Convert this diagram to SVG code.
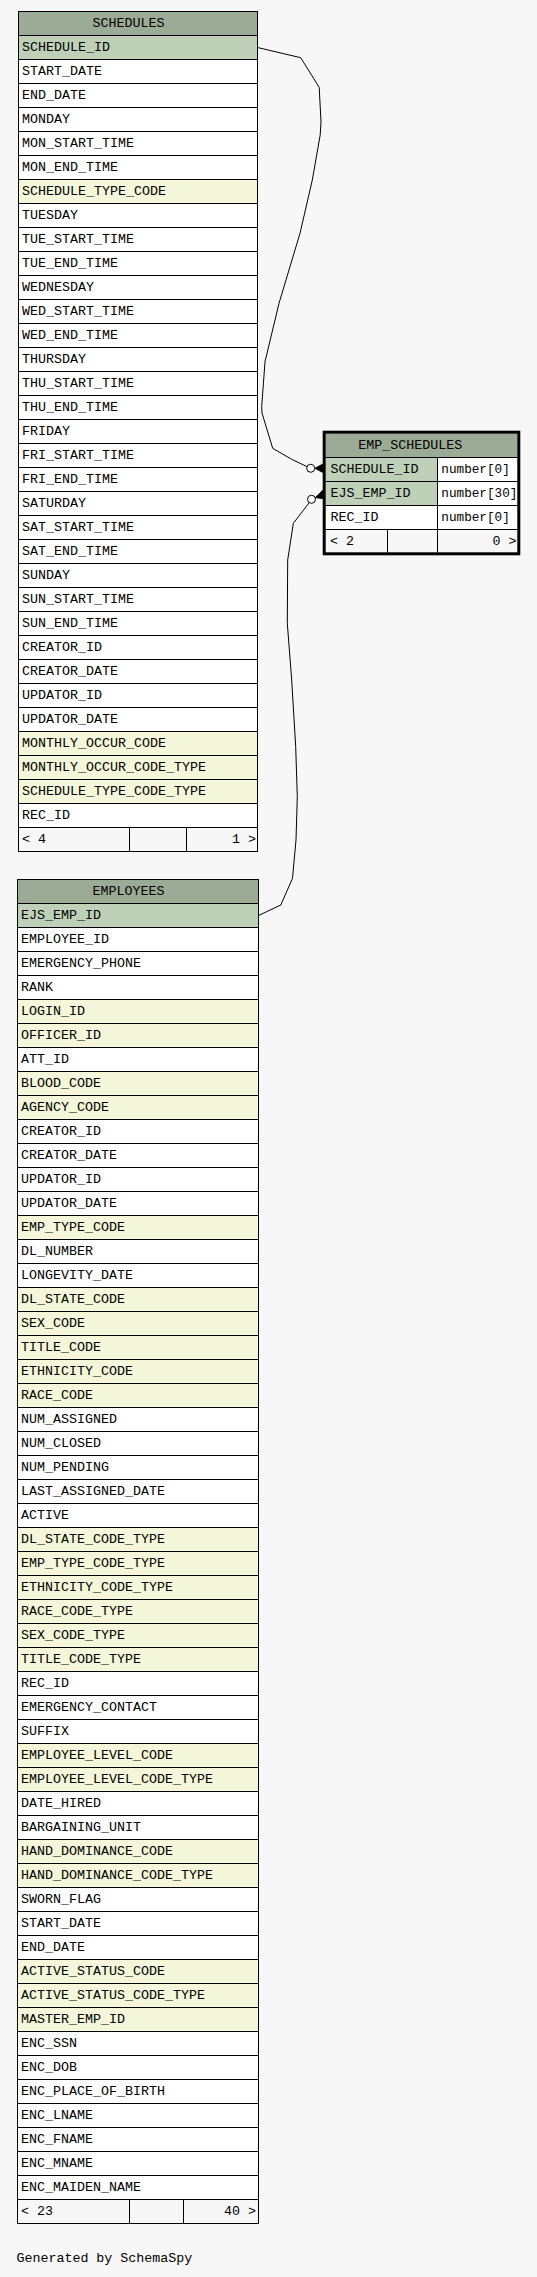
<svg xmlns="http://www.w3.org/2000/svg" width="537" height="2277" viewBox="0 0 537 2277">
<style>
text{font-family:"Liberation Mono","DejaVu Sans Mono",monospace;font-size:13.33px;fill:#000}
.t{font-size:12.7px}
.bg{fill:#ffffff;stroke:none}
.hd{fill:#9bab96}
.pk{fill:#bed1b8}
.ix{fill:#f4f7da}
.ft{fill:#f7f7f7}
.grid{fill:none;stroke:#000;stroke-width:1}
.frame{fill:none;stroke:#000;stroke-width:1}
.edge{fill:none;stroke:#000;stroke-width:1}
.dot{fill:#fff;stroke:#000;stroke-width:1}
.crow{fill:#000;stroke:#000;stroke-width:1}
.e{text-anchor:end}
</style>
<rect width="537" height="2277" fill="#f7f7f7"/>

<g id="connectors">
<path class="edge" d="M257.5,47.5 L300.7,57.7 L319.2,87.3 L321,122 L320.2,135 L312.3,180 L300,233.3 L279,303.3 L265,361.7 L261.7,406.7 L262,413 L272.7,448.3 L291.7,459.3 L306.9,466.6"/>
<circle class="dot" cx="310.7" cy="468.3" r="4"/>
<polygon class="crow" points="315,468.3 322.5,464.3 322.5,472.3"/>
<path class="edge" d="M258.5,915.5 L280.8,905 L292.5,878.3 L296,840 L297.3,796.7 L295.7,746.7 L291.7,680 L287.3,623.3 L287.7,560 L292.3,530 L293.3,523.3 L309.3,502.6"/>
<circle class="dot" cx="311.5" cy="499.3" r="4"/>
<polygon class="crow" points="315.3,497.6 322.5,490.5 322.5,498.5"/>
</g>

<g id="schedules">
<rect class="bg" x="18.5" y="11.5" width="239" height="840"/>
<rect class="hd" x="18.5" y="11.5" width="239" height="24"/>
<rect class="pk" x="18.5" y="35.5" width="239" height="24"/>
<rect class="ix" x="18.5" y="179.5" width="239" height="24"/>
<rect class="ix" x="18.5" y="731.5" width="239" height="72"/>
<rect class="ft" x="18.5" y="827.5" width="239" height="24"/>
<path class="grid" d="M18.5 35.5h239M18.5 59.5h239M18.5 83.5h239M18.5 107.5h239M18.5 131.5h239M18.5 155.5h239M18.5 179.5h239M18.5 203.5h239M18.5 227.5h239M18.5 251.5h239M18.5 275.5h239M18.5 299.5h239M18.5 323.5h239M18.5 347.5h239M18.5 371.5h239M18.5 395.5h239M18.5 419.5h239M18.5 443.5h239M18.5 467.5h239M18.5 491.5h239M18.5 515.5h239M18.5 539.5h239M18.5 563.5h239M18.5 587.5h239M18.5 611.5h239M18.5 635.5h239M18.5 659.5h239M18.5 683.5h239M18.5 707.5h239M18.5 731.5h239M18.5 755.5h239M18.5 779.5h239M18.5 803.5h239M18.5 827.5h239M129.5 827.5v24M186.5 827.5v24"/>
<rect class="frame" x="18.5" y="11.5" width="239" height="840"/>
<text x="92.5" y="27.3">SCHEDULES</text>
<text x="22" y="51.3">SCHEDULE_ID</text>
<text x="22" y="75.3">START_DATE</text>
<text x="22" y="99.3">END_DATE</text>
<text x="22" y="123.3">MONDAY</text>
<text x="22" y="147.3">MON_START_TIME</text>
<text x="22" y="171.3">MON_END_TIME</text>
<text x="22" y="195.3">SCHEDULE_TYPE_CODE</text>
<text x="22" y="219.3">TUESDAY</text>
<text x="22" y="243.3">TUE_START_TIME</text>
<text x="22" y="267.3">TUE_END_TIME</text>
<text x="22" y="291.3">WEDNESDAY</text>
<text x="22" y="315.3">WED_START_TIME</text>
<text x="22" y="339.3">WED_END_TIME</text>
<text x="22" y="363.3">THURSDAY</text>
<text x="22" y="387.3">THU_START_TIME</text>
<text x="22" y="411.3">THU_END_TIME</text>
<text x="22" y="435.3">FRIDAY</text>
<text x="22" y="459.3">FRI_START_TIME</text>
<text x="22" y="483.3">FRI_END_TIME</text>
<text x="22" y="507.3">SATURDAY</text>
<text x="22" y="531.3">SAT_START_TIME</text>
<text x="22" y="555.3">SAT_END_TIME</text>
<text x="22" y="579.3">SUNDAY</text>
<text x="22" y="603.3">SUN_START_TIME</text>
<text x="22" y="627.3">SUN_END_TIME</text>
<text x="22" y="651.3">CREATOR_ID</text>
<text x="22" y="675.3">CREATOR_DATE</text>
<text x="22" y="699.3">UPDATOR_ID</text>
<text x="22" y="723.3">UPDATOR_DATE</text>
<text x="22" y="747.3">MONTHLY_OCCUR_CODE</text>
<text x="22" y="771.3">MONTHLY_OCCUR_CODE_TYPE</text>
<text x="22" y="795.3">SCHEDULE_TYPE_CODE_TYPE</text>
<text x="22" y="819.3">REC_ID</text>
<text x="22" y="843.3">&lt; 4</text>
<text class="e" x="256" y="843.3">1 &gt;</text>
</g>

<g id="emp_schedules">
<rect class="bg" x="325.5" y="433.5" width="192" height="120"/>
<rect class="hd" x="325.5" y="433.5" width="192" height="24"/>
<rect class="pk" x="325.5" y="457.5" width="112" height="48"/>
<rect class="ft" x="325.5" y="529.5" width="192" height="24"/>
<path class="grid" d="M325.5 457.5h192M325.5 481.5h192M325.5 505.5h192M325.5 529.5h192M437.5 457.5v96M387.5 529.5v24"/>
<rect x="324.2" y="432.2" width="194.6" height="121.6" fill="none" stroke="#000" stroke-width="3"/>
<text x="358.3" y="449.3">EMP_SCHEDULES</text>
<text x="330.5" y="473.3">SCHEDULE_ID</text>
<text class="t" x="441.3" y="473.3">number[0]</text>
<text x="330.5" y="497.3">EJS_EMP_ID</text>
<text class="t" x="441.3" y="497.3">number[30]</text>
<text x="330.5" y="521.3">REC_ID</text>
<text class="t" x="441.3" y="521.3">number[0]</text>
<text x="330" y="545.3">&lt; 2</text>
<text class="e" x="516.5" y="545.3">0 &gt;</text>
</g>

<g id="employees">
<rect class="bg" x="17.5" y="879.5" width="241" height="1344"/>
<rect class="hd" x="17.5" y="879.5" width="241" height="24"/>
<rect class="pk" x="17.5" y="903.5" width="241" height="24"/>
<rect class="ix" x="17.5" y="999.5" width="241" height="48"/>
<rect class="ix" x="17.5" y="1071.5" width="241" height="48"/>
<rect class="ix" x="17.5" y="1215.5" width="241" height="24"/>
<rect class="ix" x="17.5" y="1287.5" width="241" height="120"/>
<rect class="ix" x="17.5" y="1527.5" width="241" height="144"/>
<rect class="ix" x="17.5" y="1743.5" width="241" height="48"/>
<rect class="ix" x="17.5" y="1839.5" width="241" height="48"/>
<rect class="ix" x="17.5" y="1959.5" width="241" height="72"/>
<rect class="ft" x="17.5" y="2199.5" width="241" height="24"/>
<path class="grid" d="M17.5 903.5h241M17.5 927.5h241M17.5 951.5h241M17.5 975.5h241M17.5 999.5h241M17.5 1023.5h241M17.5 1047.5h241M17.5 1071.5h241M17.5 1095.5h241M17.5 1119.5h241M17.5 1143.5h241M17.5 1167.5h241M17.5 1191.5h241M17.5 1215.5h241M17.5 1239.5h241M17.5 1263.5h241M17.5 1287.5h241M17.5 1311.5h241M17.5 1335.5h241M17.5 1359.5h241M17.5 1383.5h241M17.5 1407.5h241M17.5 1431.5h241M17.5 1455.5h241M17.5 1479.5h241M17.5 1503.5h241M17.5 1527.5h241M17.5 1551.5h241M17.5 1575.5h241M17.5 1599.5h241M17.5 1623.5h241M17.5 1647.5h241M17.5 1671.5h241M17.5 1695.5h241M17.5 1719.5h241M17.5 1743.5h241M17.5 1767.5h241M17.5 1791.5h241M17.5 1815.5h241M17.5 1839.5h241M17.5 1863.5h241M17.5 1887.5h241M17.5 1911.5h241M17.5 1935.5h241M17.5 1959.5h241M17.5 1983.5h241M17.5 2007.5h241M17.5 2031.5h241M17.5 2055.5h241M17.5 2079.5h241M17.5 2103.5h241M17.5 2127.5h241M17.5 2151.5h241M17.5 2175.5h241M17.5 2199.5h241M129.5 2199.5v24M183.5 2199.5v24"/>
<rect class="frame" x="17.5" y="879.5" width="241" height="1344"/>
<text x="92.5" y="895.3">EMPLOYEES</text>
<text x="21" y="919.3">EJS_EMP_ID</text>
<text x="21" y="943.3">EMPLOYEE_ID</text>
<text x="21" y="967.3">EMERGENCY_PHONE</text>
<text x="21" y="991.3">RANK</text>
<text x="21" y="1015.3">LOGIN_ID</text>
<text x="21" y="1039.3">OFFICER_ID</text>
<text x="21" y="1063.3">ATT_ID</text>
<text x="21" y="1087.3">BLOOD_CODE</text>
<text x="21" y="1111.3">AGENCY_CODE</text>
<text x="21" y="1135.3">CREATOR_ID</text>
<text x="21" y="1159.3">CREATOR_DATE</text>
<text x="21" y="1183.3">UPDATOR_ID</text>
<text x="21" y="1207.3">UPDATOR_DATE</text>
<text x="21" y="1231.3">EMP_TYPE_CODE</text>
<text x="21" y="1255.3">DL_NUMBER</text>
<text x="21" y="1279.3">LONGEVITY_DATE</text>
<text x="21" y="1303.3">DL_STATE_CODE</text>
<text x="21" y="1327.3">SEX_CODE</text>
<text x="21" y="1351.3">TITLE_CODE</text>
<text x="21" y="1375.3">ETHNICITY_CODE</text>
<text x="21" y="1399.3">RACE_CODE</text>
<text x="21" y="1423.3">NUM_ASSIGNED</text>
<text x="21" y="1447.3">NUM_CLOSED</text>
<text x="21" y="1471.3">NUM_PENDING</text>
<text x="21" y="1495.3">LAST_ASSIGNED_DATE</text>
<text x="21" y="1519.3">ACTIVE</text>
<text x="21" y="1543.3">DL_STATE_CODE_TYPE</text>
<text x="21" y="1567.3">EMP_TYPE_CODE_TYPE</text>
<text x="21" y="1591.3">ETHNICITY_CODE_TYPE</text>
<text x="21" y="1615.3">RACE_CODE_TYPE</text>
<text x="21" y="1639.3">SEX_CODE_TYPE</text>
<text x="21" y="1663.3">TITLE_CODE_TYPE</text>
<text x="21" y="1687.3">REC_ID</text>
<text x="21" y="1711.3">EMERGENCY_CONTACT</text>
<text x="21" y="1735.3">SUFFIX</text>
<text x="21" y="1759.3">EMPLOYEE_LEVEL_CODE</text>
<text x="21" y="1783.3">EMPLOYEE_LEVEL_CODE_TYPE</text>
<text x="21" y="1807.3">DATE_HIRED</text>
<text x="21" y="1831.3">BARGAINING_UNIT</text>
<text x="21" y="1855.3">HAND_DOMINANCE_CODE</text>
<text x="21" y="1879.3">HAND_DOMINANCE_CODE_TYPE</text>
<text x="21" y="1903.3">SWORN_FLAG</text>
<text x="21" y="1927.3">START_DATE</text>
<text x="21" y="1951.3">END_DATE</text>
<text x="21" y="1975.3">ACTIVE_STATUS_CODE</text>
<text x="21" y="1999.3">ACTIVE_STATUS_CODE_TYPE</text>
<text x="21" y="2023.3">MASTER_EMP_ID</text>
<text x="21" y="2047.3">ENC_SSN</text>
<text x="21" y="2071.3">ENC_DOB</text>
<text x="21" y="2095.3">ENC_PLACE_OF_BIRTH</text>
<text x="21" y="2119.3">ENC_LNAME</text>
<text x="21" y="2143.3">ENC_FNAME</text>
<text x="21" y="2167.3">ENC_MNAME</text>
<text x="21" y="2191.3">ENC_MAIDEN_NAME</text>
<text x="21" y="2215.3">&lt; 23</text>
<text class="e" x="256" y="2215.3">40 &gt;</text>
</g>

<text x="16.4" y="2262.3">Generated by SchemaSpy</text>
</svg>
